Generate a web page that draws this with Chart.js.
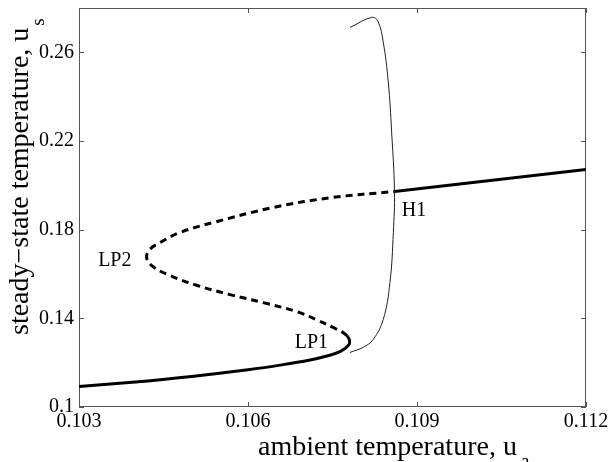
<!DOCTYPE html>
<html lang="en">
<head>
<meta charset="UTF-8">
<title>Steady-state temperature vs ambient temperature</title>
<script src="https://cdn.jsdelivr.net/npm/chart.js"></script>
<style>
    body { margin: 0; background: #fff; }
    #chart { display: block; }
</style>
</head>
<body>
<canvas id="chart" width="610" height="462"></canvas>
<script>
// axis ticks
const xTicks = [0.103, 0.106, 0.109, 0.112];
const xTickLabels = ['0.103', '0.106', '0.109', '0.112'];
const yTicks = [0.1, 0.14, 0.18, 0.22, 0.26];
const yTickLabels = ['0.1', '0.14', '0.18', '0.22', '0.26'];

// lower stable steady states (solid), up to LP1
const lowerUa = [0.1030, 0.1040, 0.1050, 0.1060, 0.1066, 0.1071, 0.1074, 0.10765, 0.10779, 0.10780, 0.10776];
const lowerUs = [0.1092, 0.1113, 0.1138, 0.1168, 0.1190, 0.1212, 0.1230, 0.1252, 0.1280, 0.1302, 0.1322];

// unstable steady states (dashed), LP1 -> LP2 -> H1
const midUa = [0.10776, 0.10766, 0.10750, 0.10725, 0.10687, 0.10627, 0.10568, 0.10510, 0.10460, 0.10430, 0.10420, 0.10426, 0.10444, 0.10479, 0.10538, 0.10645, 0.10749, 0.10860];
const midUs = [0.1322, 0.1340, 0.1360, 0.1390, 0.1430, 0.1471, 0.1507, 0.1548, 0.1595, 0.1636, 0.1674, 0.1711, 0.1742, 0.1787, 0.1832, 0.1900, 0.1945, 0.1972];

// upper stable steady states (solid), from H1
const upperUa = [0.10860, 0.1103, 0.1120];
const upperUs = [0.1972, 0.2022, 0.2072];

// periodic branch through H1 (thin)
const hopfUa = [0.10781, 0.10805, 0.10822, 0.10840, 0.10852, 0.10858, 0.10860, 0.10855, 0.10849, 0.10840, 0.10831, 0.10820, 0.10781];
const hopfUs = [0.1246, 0.1270, 0.1304, 0.1394, 0.1562, 0.1788, 0.1972, 0.2240, 0.2466, 0.2648, 0.2738, 0.2758, 0.2712];

// point labels (anchored at left/baseline)
const pointLabels = ['LP1', 'LP2', 'H1'];
const labelUa = [0.10683, 0.10334, 0.10873];
const labelUs = [0.1267, 0.1634, 0.1861];

const toPts = (xs, ys) => xs.map((x, i) => ({ x: x, y: ys[i] }));
const serif = '"Liberation Serif", "Times New Roman", serif';

// box, inward ticks, axis titles and point labels
const decorations = {
    id: 'decorations',
    beforeDatasetsDraw(chart) {
        const ctx = chart.ctx;
        const a = chart.chartArea;
        const xs = chart.scales.x, ys = chart.scales.y;
        ctx.save();
        ctx.strokeStyle = '#555';
        ctx.lineWidth = 1;
        ctx.strokeRect(a.left + 0.5, a.top + 0.5, a.right - a.left - 1, a.bottom - a.top - 1);
        ctx.beginPath();
        xTicks.forEach(v => {
            const px = Math.round(xs.getPixelForValue(v)) + 0.5;
            ctx.moveTo(px, a.bottom); ctx.lineTo(px, a.bottom - 5);
            ctx.moveTo(px, a.top); ctx.lineTo(px, a.top + 5);
        });
        yTicks.forEach(v => {
            const py = Math.round(ys.getPixelForValue(v)) + 0.5;
            ctx.moveTo(a.left, py); ctx.lineTo(a.left + 5, py);
            ctx.moveTo(a.right, py); ctx.lineTo(a.right - 5, py);
        });
        ctx.stroke();
        ctx.restore();
    },
    afterDraw(chart) {
        const ctx = chart.ctx;
        const xs = chart.scales.x, ys = chart.scales.y;
        ctx.save();
        ctx.fillStyle = '#000';
        ctx.textBaseline = 'alphabetic';
        ctx.textAlign = 'left';

        // point labels
        ctx.font = '20px ' + serif;
        pointLabels.forEach((t, i) => {
            ctx.fillText(t, xs.getPixelForValue(labelUa[i]), ys.getPixelForValue(labelUs[i]));
        });

        // x title with subscript
        ctx.font = '28px ' + serif;
        const xt = 'ambient temperature, u';
        const xw = ctx.measureText(xt).width;
        const x0 = 258, y0 = 455;
        ctx.fillText(xt, x0, y0);
        ctx.font = '19px ' + serif;
        ctx.fillText('a', x0 + xw + 4, y0 + 12);

        // y title with subscript, rotated
        ctx.translate(28, 335);
        ctx.rotate(-Math.PI / 2);
        ctx.font = '28px ' + serif;
        const yt = 'steady\u2212state temperature, u';
        const yw = ctx.measureText(yt).width;
        ctx.fillText(yt, 0, 0);
        ctx.font = '19px ' + serif;
        ctx.fillText('s', yw + 2, 16);
        ctx.restore();
    }
};

const thick = { showLine: true, pointRadius: 0, borderColor: '#000', borderWidth: 3, tension: 0.4, fill: false };

new Chart(document.getElementById('chart'), {
    type: 'scatter',
    data: {
        datasets: [
            Object.assign({ label: 'stable (low)', data: toPts(lowerUa, lowerUs) }, thick),
            Object.assign({ label: 'unstable', data: toPts(midUa, midUs), borderDash: [7, 5] }, thick),
            Object.assign({ label: 'stable (high)', data: toPts(upperUa, upperUs) }, thick, { tension: 0 }),
            { label: 'periodic', data: toPts(hopfUa, hopfUs), showLine: true, pointRadius: 0,
              borderColor: '#222', borderWidth: 1, tension: 0.4, fill: false }
        ]
    },
    options: {
        responsive: false,
        devicePixelRatio: 1,
        animation: false,
        layout: { padding: { top: 8, right: 24, left: 0, bottom: 0 } },
        plugins: { legend: { display: false }, tooltip: { enabled: false } },
        scales: {
            x: {
                type: 'linear', min: 0.103, max: 0.112,
                afterBuildTicks: s => { s.ticks = xTicks.map(v => ({ value: v })); },
                afterFit: s => { s.height = 55; s.paddingLeft = 0; s.paddingRight = 0; },
                grid: { display: false, drawTicks: false },
                border: { display: false },
                ticks: {
                    padding: 3, color: '#000', maxRotation: 0, autoSkip: false,
                    font: { family: serif, size: 20 },
                    callback: (v, i) => xTickLabels[i]
                }
            },
            y: {
                type: 'linear', min: 0.1, max: 0.28,
                afterBuildTicks: s => { s.ticks = yTicks.map(v => ({ value: v })); },
                afterFit: s => { s.width = 79; s.paddingTop = 0; s.paddingBottom = 0; },
                grid: { display: false, drawTicks: false },
                border: { display: false },
                ticks: {
                    padding: 5, color: '#000', autoSkip: false,
                    font: { family: serif, size: 20 },
                    callback: (v, i) => yTickLabels[i]
                }
            }
        }
    },
    plugins: [decorations]
});
</script>
</body>
</html>
